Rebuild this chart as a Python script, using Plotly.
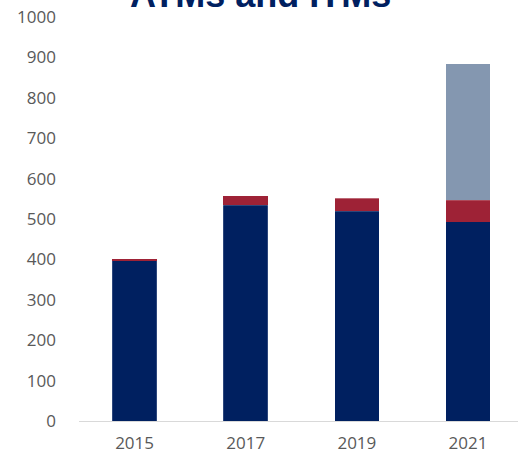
import plotly.graph_objects as go

# Terminal counts by survey year
years = ["2015", "2017", "2019", "2021"]
atms = [398, 534, 519, 493]
itms = [4, 23, 32, 54]
other = [0, 0, 0, 337]

y_ticks = [0, 100, 200, 300, 400, 500, 600, 700, 800, 900, 1000]

navy = "#002060"
crimson = "#9E2236"
slate = "#8497B0"
edge = dict(color="rgba(255,255,255,0.35)", width=0.5)

fig = go.Figure()
fig.add_bar(x=years, y=atms, name="ATMs", marker=dict(color=navy, line=edge))
fig.add_bar(x=years, y=itms, name="ITMs", marker=dict(color=crimson, line=dict(width=0)))
fig.add_bar(x=years, y=other, name="Other", marker=dict(color=slate, line=edge))

tick_font = dict(family="Open Sans", size=17, color="#595959")

fig.update_layout(
    width=518,
    height=457,
    barmode="stack",
    bargap=0.6,
    showlegend=False,
    plot_bgcolor="white",
    paper_bgcolor="white",
    margin=dict(l=79, r=0, t=17, b=36, autoexpand=False),
    font=tick_font,
    annotations=[
        dict(
            text="<b>ATMs and ITMs</b>",
            xref="paper", yref="paper",
            x=(260 - 79) / 439, y=1 + 0.5 / 404,
            xanchor="center", yanchor="bottom",
            showarrow=False,
            font=dict(family="Liberation Sans", size=36, color="#002060"),
        )
    ],
)

fig.update_xaxes(
    type="category",
    range=[-0.5, 3.45],
    showline=True,
    linecolor="#D9D9D9",
    linewidth=1,
    showgrid=False,
    ticks="",
    ticklabelstandoff=7,
)
fig.update_yaxes(
    range=[0, 1000],
    tickvals=y_ticks,
    showgrid=False,
    zeroline=False,
    showline=False,
    ticks="",
    ticklabelstandoff=22,
)

fig.write_html("out.html")
